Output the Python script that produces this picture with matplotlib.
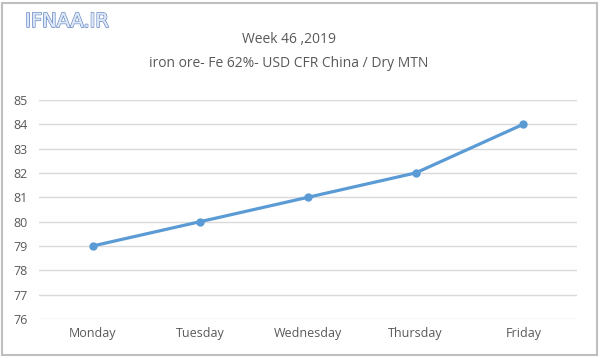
import matplotlib.pyplot as plt
from matplotlib.patches import Rectangle
import matplotlib.patheffects as pe

days = ["Monday", "Tuesday", "Wednesday", "Thursday", "Friday"]
prices = [79, 80, 81, 82, 84]
yticks = list(range(76, 86))

fig = plt.figure(figsize=(6, 3.58), dpi=100)
ax = fig.add_axes([0.065, 0.109, 0.897, 0.612])

ax.plot(range(len(days)), prices, color="#5B9BD5", linewidth=2.3,
        marker="o", markersize=5, zorder=3)

ax.set_xlim(-0.5, len(days) - 0.5)
ax.set_ylim(76, 85)
ax.set_yticks(yticks)
ax.set_xticks(range(len(days)))
ax.set_xticklabels(days)
ax.grid(axis="y", color="#D9D9D9", linewidth=1)
ax.set_axisbelow(True)
for s in ax.spines.values():
    s.set_visible(False)
ax.tick_params(length=0, labelsize=9, colors="#595959", pad=6)
ax.tick_params(axis="y", pad=8)
for lab in ax.get_xticklabels() + ax.get_yticklabels():
    lab.set_fontfamily("Open Sans")

fig.text(0.481, 0.889, "Week 46 ,2019", ha="center", va="center",
         fontsize=10, color="#595959", family="Open Sans")
fig.text(0.481, 0.822, "iron ore- Fe 62%- USD CFR China / Dry MTN", ha="center",
         va="center", fontsize=10, color="#595959", family="Open Sans")

wm = fig.text(0.042, 0.94, "IFNAA.IR", ha="left", va="center", fontsize=14,
              color="#DCE6F5", family="DejaVu Sans")
wm.set_path_effects([pe.withStroke(linewidth=1.2, foreground="#6C8EC8"), pe.Normal()])

fig.patches.append(Rectangle((0.003, 0.008), 0.992, 0.985, transform=fig.transFigure,
                             fill=False, edgecolor="#BFBFBF", linewidth=1.5))

fig.savefig("out.png", dpi=100)
